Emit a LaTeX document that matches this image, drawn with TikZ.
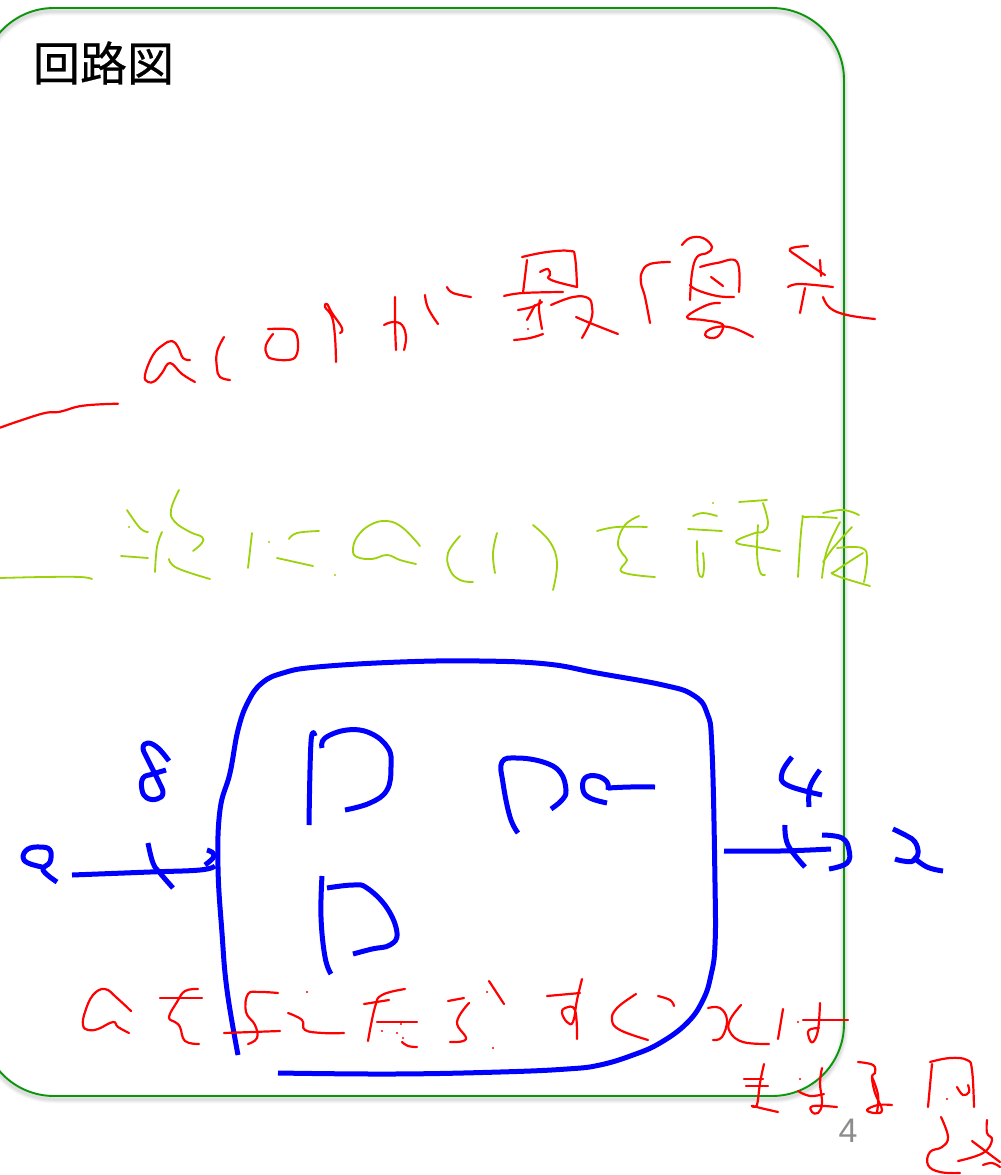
\documentclass[tikz,border=0pt]{standalone}
\usepackage{fontspec}
\setmainfont{Liberation Sans}
\newfontfamily\cjk[FakeBold=0.5]{Noto Sans CJK JP}
\tikzset{
  redink/.style={draw=inkred,line width=2.2pt,line cap=round,line join=round},
  greenink/.style={draw=inkgreen,line width=1.8pt,line cap=round,line join=round},
  blueink/.style={draw=inkblue,line width=5pt,line cap=butt,line join=round},
  panel/.style={rounded corners=72pt},
}
\definecolor{inkred}{RGB}{255,0,0}
\definecolor{inkgreen}{RGB}{155,210,10}
\definecolor{inkblue}{RGB}{0,0,255}
\definecolor{panelgreen}{RGB}{10,150,10}
\definecolor{pagegray}{RGB}{140,140,140}
\newcommand\ink[2]{\draw[#1] plot[smooth,tension=0.7] coordinates {#2};}
\newcommand\inkdot[2]{\fill[#1] (#2) circle (1.1pt);}
\begin{document}
\begin{tikzpicture}[x=1pt,y=-1pt]
\useasboundingbox (0,0) rectangle (1001,1175);
\clip (0,0) rectangle (1001,1175);
\fill[white] (0,0) rectangle (1001,1175);
% panel with soft shadow of its outline
\fill[white,panel] (-18,8) rectangle (844,1096);
\foreach \w/\o in {9/0.025,7/0.03,5/0.035,3/0.04}{
  \draw[black,opacity=\o,line width=\w pt,panel] (-18,11) rectangle (844,1099);
}
\draw[draw=panelgreen,line width=1.9pt,panel] (-18,8) rectangle (844,1096);
\node[inner sep=0pt,anchor=center,font=\cjk\fontsize{47pt}{47pt}\selectfont] (title) at (103.5,63) {回路図};
\node[inner sep=0pt,anchor=center,text=pagegray,font=\fontsize{34pt}{34pt}\selectfont] (pagenum) at (848,1131) {4};
% --- red first line
\ink{redink}{(0,427.7) (20,420.7) (45,413) (60,411.7) (83,405.7) (118,403.7)}
\ink{redink}{(190,360) (183,358) (178,347) (172,341) (163,345) (153,355) (145,375) (148,382) (155,381) (162,373) (170,363) (182,374) (195,382)}
\ink{redink}{(224,337) (217,352) (217,368) (220,377) (230,380)}
\ink{redink}{(268,329) (287,329) (295,332) (298,343) (296,356) (288,360) (273,359) (267,355) (266,345) (273,334)}
\ink{redink}{(336,362) (335,337) (332,317) (325,307) (327,304) (332,313) (342,328) (340,333)}
\ink{redink}{(395,297) (395,323) (396,350)}
\ink{redink}{(384,325) (393,322) (402,325) (406,337) (404,350)}
\ink{redink}{(425,295) (428,308) (438,324)}
\ink{redink}{(447,287) (453,293) (471,297)}
% sai
\ink{redink}{(522,257) (547,252) (570,251) (575,257) (577,287)}
\ink{redink}{(527,260) (523,293)}
\ink{redink}{(540,272) (548,269) (550,275) (548,278) (557,282) (577,287)}
\ink{redink}{(504,296) (523,293) (563,292)}
\ink{redink}{(518,310) (532,307) (542,302)}
\ink{redink}{(540,300) (539,310) (542,329)}
\ink{redink}{(535,305) (527,320)}
\inkdot{inkred}{528,329}
\ink{redink}{(514,340) (530,338) (543,334)}
\ink{redink}{(551,305) (573,297) (588,298) (592,307) (591,320) (582,338)}
\ink{redink}{(576,317) (590,323) (618,334)}
% yuu
\ink{redink}{(670,262) (650,264) (642,272) (641,283) (645,297) (650,323)}
\ink{redink}{(682,245) (690,238) (703,238) (712,247) (707,253) (697,257) (692,273) (690,300)}
\ink{redink}{(700,267) (717,263) (737,262) (739,292)}
\ink{redink}{(690,285) (697,290) (717,296) (734,297)}
\ink{redink}{(711,277) (723,286)}
\ink{redink}{(720,303) (707,305) (687,317) (703,320) (720,323) (723,328) (717,337) (707,337) (706,332) (717,327) (733,328) (753,337)}
% sen
\ink{redink}{(808,246) (790,249) (800,258) (825,275)}
\ink{redink}{(820,260) (821,276)}
\ink{redink}{(788,287) (800,284) (833,287)}
\ink{redink}{(805,288) (800,313)}
\ink{redink}{(823,297) (830,308) (847,315) (875,319)}
% --- green line
\ink{greenink}{(0,578) (43,577) (80,577) (92,579)}
\ink{greenink}{(127,510) (140,528) (148,532)}
\inkdot{inkgreen}{129,527}
\ink{greenink}{(121,556) (148,558)}
\ink{greenink}{(162,532) (157,547) (155,572)}
\ink{greenink}{(179,490) (171,510) (175,522) (190,532) (202,537) (202,543) (193,551)}
\ink{greenink}{(169,559) (177,568) (210,579)}
\ink{greenink}{(252,533) (248,568)}
\inkdot{inkgreen}{269,542}
\ink{greenink}{(289,539) (297,533) (319,531)}
\ink{greenink}{(277,558) (313,566)}
\inkdot{inkgreen}{335,575}
\ink{greenink}{(420,546) (403,528) (387,521) (370,525) (357,537) (353,550) (357,557) (372,559) (387,555) (400,560) (416,564)}
\ink{greenink}{(460,536) (448,553) (450,570) (460,580) (473,582)}
\ink{greenink}{(497,533) (493,553) (495,573)}
\ink{greenink}{(533,525) (550,542) (557,563) (553,590)}
\ink{greenink}{(597,531) (617,527) (647,527)}
\ink{greenink}{(639,516) (625,525) (618,542) (622,553) (627,560) (622,572) (655,577)}
\ink{greenink}{(693,516) (703,513) (717,516)}
\ink{greenink}{(688,529) (722,531)}
\inkdot{inkgreen}{713,503}
\ink{greenink}{(697,541) (698,570) (702,577) (704,567) (703,553)}
\ink{greenink}{(739,502) (767,500)}
\ink{greenink}{(763,503) (768,523) (763,532) (755,533) (736,542) (757,547) (780,551)}
\ink{greenink}{(758,525) (757,553) (760,572) (765,575)}
\ink{greenink}{(837,518) (807,517) (802,523) (798,577)}
\ink{greenink}{(823,513) (843,510) (859,515)}
\ink{greenink}{(840,522) (827,550) (822,578)}
\ink{greenink}{(823,562) (833,548) (840,540) (852,527)}
\ink{greenink}{(837,548) (862,548) (867,560) (864,582)}
\ink{greenink}{(863,553) (837,570) (835,575) (870,586)}
% --- blue circuit
\ink{blueink}{(278,1073) (393,1074) (500,1072) (567,1069) (600,1065) (633,1055) (660,1043) (687,1023) (703,1000) (711,975) (715,945) (715,883) (712,750) (707,713) (693,695) (663,685) (597,673) (547,664) (480,661) (400,662) (317,667) (283,673) (262,683) (248,702) (238,730) (230,773) (220,810) (218,867) (222,933) (227,990) (238,1055)}
\ink{blueink}{(57,882) (43,870) (50,862) (50,850) (40,847) (28,849) (23,857) (28,863) (42,867)}
\ink{blueink}{(72,875) (150,872) (200,870) (215,866)}
\ink{blueink}{(205,865) (213,858) (213,853) (207,850)}
\ink{blueink}{(148,843) (153,863) (160,873) (173,888)}
\ink{blueink}{(169,761) (158,748) (148,743) (143,748) (148,760) (158,780) (163,793) (157,799) (147,798) (142,790) (143,778) (153,774) (166,770)}
\ink{blueink}{(315,736) (311,742) (309,825)}
\ink{blueink}{(322,748) (325,738) (347,730) (370,733) (388,748) (391,767) (387,790) (370,803) (345,810)}
\ink{blueink}{(322,876) (321,917) (325,957) (331,974)}
\ink{blueink}{(327,888) (353,885) (367,888) (387,908) (397,933) (390,945) (372,949) (353,954)}
\ink{blueink}{(518,833) (510,817) (503,783) (502,762) (517,758) (543,762) (560,772) (566,790) (562,800) (551,809)}
\ink{blueink}{(607,803) (590,798) (583,790) (585,778) (597,776) (607,782) (608,790)}
\ink{blueink}{(608,788) (630,787) (655,787)}
\ink{blueink}{(792,757) (782,773) (787,785) (822,795)}
\ink{blueink}{(820,770) (810,787) (809,807)}
\ink{blueink}{(724,851) (780,851) (831,849)}
\ink{blueink}{(785,825) (788,845) (805,867)}
\ink{blueink}{(822,835) (842,838) (849,850) (847,863) (829,869)}
\ink{blueink}{(893,829) (907,836) (915,842) (918,853) (913,861) (903,861) (895,859)}
\ink{blueink}{(913,857) (927,867) (943,871)}
% --- red bottom lines
\ink{redink}{(131,1011) (117,998) (105,989) (93,995) (85,1012) (83,1025) (88,1030) (98,1029) (113,1022) (118,1027) (129,1033)}
\ink{redink}{(160,998) (202,998)}
\ink{redink}{(198,989) (185,991) (177,1002) (169,1017) (175,1022) (180,1027) (185,1041) (199,1044)}
\ink{redink}{(278,993) (260,992) (248,994) (246,1012) (255,1025) (257,1038) (248,1044)}
\ink{redink}{(224,1033) (280,1031)}
\inkdot{inkred}{307,992}
\ink{redink}{(288,1013) (302,1020) (305,1030) (323,1033) (344,1033)}
\ink{redink}{(405,989) (382,995) (375,1007) (368,1041)}
\ink{redink}{(364,1004) (389,1000)}
\ink{redink}{(377,1022) (417,1022)}
\inkdot{inkred}{382,1031}
\inkdot{inkred}{397,1033}
\inkdot{inkred}{403,1038}
\inkdot{inkred}{401,1024}
\ink{redink}{(402,1042) (408,1046) (417,1047)}
\ink{redink}{(448,1001) (464,998)}
\ink{redink}{(469,1003) (457,1022) (466,1039) (450,1042)}
\ink{redink}{(489,981) (504,1004)}
\inkdot{inkred}{487,992}
\inkdot{inkred}{493,1048}
\ink{redink}{(547,996) (580,993)}
\ink{redink}{(582,979) (577,1000) (573,1022) (567,1022) (562,1013) (565,1008) (575,1010) (577,1039)}
\ink{redink}{(636,994) (617,1008) (612,1020) (620,1030) (648,1040)}
\ink{redink}{(658,996) (670,1000) (674,1006)}
\ink{redink}{(708,1008) (720,1008) (727,1020) (722,1037) (713,1040)}
\ink{redink}{(741,1005) (730,1020) (730,1032) (743,1042) (769,1044)}
\ink{redink}{(783,1009) (778,1039)}
\inkdot{inkred}{798,1022}
\ink{redink}{(803,1020) (848,1020)}
\ink{redink}{(820,1003) (818,1030) (813,1042) (809,1038) (809,1030) (819,1028)}
\ink{redink}{(764,1064) (760,1083) (757,1105) (753,1106) (778,1112)}
\ink{redink}{(744,1079) (763,1079)}
\ink{redink}{(746,1086) (768,1086)}
\inkdot{inkred}{800,1079}
\ink{redink}{(822,1068) (820,1083) (822,1103) (818,1113) (812,1112) (813,1106) (837,1107)}
\ink{redink}{(798,1091) (810,1096) (824,1094)}
\ink{redink}{(858,1062) (873,1065) (875,1073) (872,1077) (875,1093) (882,1110) (875,1113) (867,1110) (878,1105) (892,1105)}
\ink{redink}{(872,1077) (878,1095) (877,1112)}
\ink{redink}{(930,1062) (950,1058) (967,1060) (972,1070) (974,1107)}
\ink{redink}{(932,1064) (928,1107)}
\ink{redink}{(957,1087) (963,1095) (969,1092) (968,1085)}
\inkdot{inkred}{947,1099}
\ink{redink}{(941,1117) (948,1137) (942,1147) (930,1152) (928,1165) (940,1172) (960,1173)}
\ink{redink}{(987,1120) (987,1133) (992,1140) (983,1153) (958,1161)}
\ink{redink}{(972,1141) (1000,1162)}
\ink{redink}{(983,1165) (992,1163) (1000,1167)}
\end{tikzpicture}
\end{document}
